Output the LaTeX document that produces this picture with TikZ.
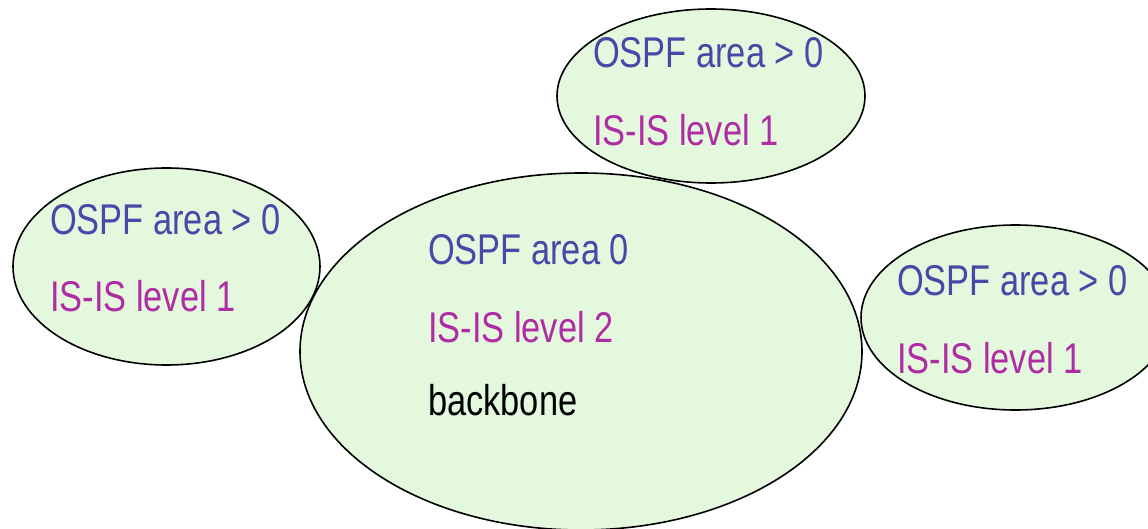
\documentclass[tikz,border=0pt]{standalone}
\usepackage{fontspec}
\newfontfamily\narrowsans[FakeStretch=0.8]{Liberation Sans}
\usetikzlibrary{shapes.geometric}
\definecolor{areafill}{RGB}{227,248,221}
\definecolor{ospfblue}{RGB}{72,72,168}
\definecolor{isismag}{RGB}{176,44,164}
\tikzset{
  areashape/.style={ellipse, fill=areafill, inner sep=0pt},
  arealine/.style={draw=black, line width=1.6pt},
  lbl/.style={anchor=base west, inner sep=0pt, font=\narrowsans\fontsize{43}{43}\selectfont},
  ospf/.style={lbl, text=ospfblue},
  isis/.style={lbl, text=isismag},
  bb/.style={lbl, text=black}
}
\begin{document}
\begin{tikzpicture}[x=1pt,y=-1pt]
\useasboundingbox (0,0) rectangle (1148,529);
% fills
\node[areashape, minimum width=562pt, minimum height=357pt] (big) at (581,351.5) {};
\node[areashape, minimum width=307pt, minimum height=197pt] (left) at (166.5,266.5) {};
\node[areashape, minimum width=308pt, minimum height=174pt] (top) at (711,96) {};
\node[areashape, minimum width=309pt, minimum height=185pt] (right) at (1015.5,317.5) {};
% outlines
\draw[arealine] (big.center) ellipse [x radius=281pt, y radius=178.5pt];
\draw[arealine] (left.center) ellipse [x radius=153.5pt, y radius=98.5pt];
\draw[arealine] (top.center) ellipse [x radius=154pt, y radius=87pt];
\draw[arealine] (right.center) ellipse [x radius=154.5pt, y radius=92.5pt];
% labels
\node[ospf] (bigospf) at (428,265) {OSPF area 0};
\node[isis] (bigisis) at (428,342) {IS-IS level 2};
\node[bb] (bigbb) at (428,415) {backbone};
\node[ospf] (leftospf) at (50,235) {OSPF area > 0};
\node[isis] (leftisis) at (50,312) {IS-IS level 1};
\node[ospf] (topospf) at (593,68) {OSPF area > 0};
\node[isis] (topisis) at (593,146) {IS-IS level 1};
\node[ospf] (rightospf) at (897,295) {OSPF area > 0};
\node[isis] (rightisis) at (897,373) {IS-IS level 1};
\end{tikzpicture}
\end{document}
